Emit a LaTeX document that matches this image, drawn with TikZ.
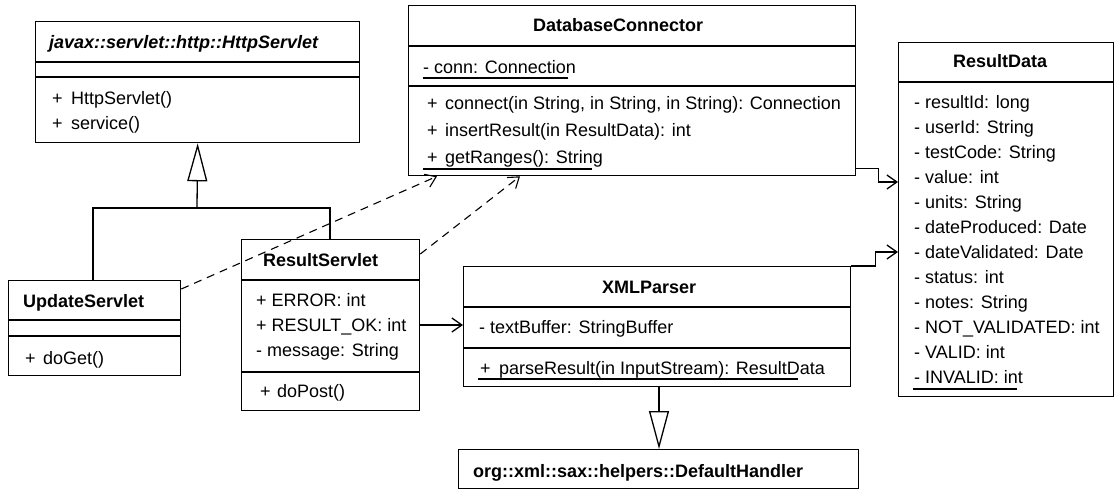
\documentclass[tikz,border=0pt]{standalone}
\usepackage{fontspec}
\setmainfont{Liberation Sans}
\usetikzlibrary{arrows.meta,calc}
\tikzset{
  cls/.style={draw, line width=1.3pt, rectangle, inner sep=0pt, anchor=north west},
  txt/.style={anchor=base west, inner sep=0pt, font=\fontsize{18}{20}\selectfont},
  ttl/.style={anchor=base west, inner sep=0pt, font=\fontsize{18}{20}\selectfont\bfseries},
  sep/.style={line width=1.3pt},
  ul/.style={line width=1.3pt},
  conn/.style={line width=1.3pt},
  dep/.style={line width=1.1pt, dash pattern=on 8pt off 6pt, -{Straight Barb[length=10pt,width=14pt]}},
  nav/.style={line width=1.3pt, -{Straight Barb[length=10pt,width=14pt]}},
  gen/.style={line width=1.3pt, -{Triangle[open,length=38pt,width=20pt]}}
}
\begin{document}
\begin{tikzpicture}[x=1pt,y=-1pt]
\useasboundingbox[fill=white] (0,0) rectangle (1117,490);

% HttpServlet
\node[cls, minimum width=324pt, minimum height=121pt] (http) at (35,21) {};
\draw[sep] (35,62) -- (359,62);
\draw[sep] (35,77) -- (359,77);
\node[ttl, font=\fontsize{18}{20}\selectfont\bfseries\itshape] (httpn) at (49,48.5) {javax::servlet::http::HttpServlet};
\node[txt] (httpm1a) at (52,104.5) {+};
\node[txt] (httpm1) at (71,104.5) {HttpServlet()};
\node[txt] (httpm2a) at (52,129.5) {+};
\node[txt] (httpm2) at (71,129.5) {service()};

% DatabaseConnector
\node[cls, minimum width=447pt, minimum height=170pt] (db) at (408,5) {};
\draw[sep] (408,46) -- (855,46);
\draw[sep] (408,86) -- (855,86);
\node[ttl] (dbn) at (533,31) {DatabaseConnector};
\node[txt] (dba1) at (423,73) {- conn: Connection};
\draw[ul] (423,78) -- (568,78);
\node[txt] (dbm1a) at (427,109) {+};
\node[txt] (dbm1) at (445,109) {connect(in String, in String, in String): Connection};
\node[txt] (dbm2a) at (427,136) {+};
\node[txt] (dbm2) at (445,136) {insertResult(in ResultData): int};
\node[txt] (dbm3a) at (427,163) {+};
\node[txt] (dbm3) at (445,163) {getRanges(): String};
\draw[ul] (423,169) -- (592,169);

% ResultData
\node[cls, minimum width=215pt, minimum height=354pt] (rd) at (898,42) {};
\draw[sep] (898,82) -- (1113,82);
\node[ttl] (rdn) at (953,67) {ResultData};
\node[txt] (rda1) at (914,108) {- resultId: long};
\node[txt] (rda2) at (914,133) {- userId: String};
\node[txt] (rda3) at (914,158) {- testCode: String};
\node[txt] (rda4) at (914,183) {- value: int};
\node[txt] (rda5) at (914,208) {- units: String};
\node[txt] (rda6) at (914,233) {- dateProduced: Date};
\node[txt] (rda7) at (914,258) {- dateValidated: Date};
\node[txt] (rda8) at (914,283) {- status: int};
\node[txt] (rda9) at (914,308) {- notes: String};
\node[txt] (rda10) at (914,333) {- NOT\_VALIDATED: int};
\node[txt] (rda11) at (914,358) {- VALID: int};
\node[txt] (rda12) at (914,383) {- INVALID: int};
\draw[ul] (913,389) -- (1017,389);

% UpdateServlet
\node[cls, minimum width=172pt, minimum height=95pt] (upd) at (8,280) {};
\draw[sep] (8,320) -- (180,320);
\draw[sep] (8,336) -- (180,336);
\node[ttl] (updn) at (23,307) {UpdateServlet};
\node[txt] (updm1a) at (25,364) {+};
\node[txt] (updm1) at (43,364) {doGet()};

% ResultServlet
\node[cls, minimum width=178pt, minimum height=171pt] (rs) at (241,239) {};
\draw[sep] (241,280) -- (419,280);
\draw[sep] (241,372) -- (419,372);
\node[ttl] (rsn) at (263,266) {ResultServlet};
\node[txt] (rsa1) at (256,306) {+ ERROR: int};
\node[txt] (rsa2) at (256,331) {+ RESULT\_OK: int};
\node[txt] (rsa3) at (256,356) {- message: String};
\node[txt] (rsm1a) at (260,397) {+};
\node[txt] (rsm1) at (277,397) {doPost()};

% XMLParser
\node[cls, minimum width=387pt, minimum height=120pt] (xml) at (463,266) {};
\draw[sep] (463,307) -- (850,307);
\draw[sep] (463,348) -- (850,348);
\node[ttl] (xmln) at (602,293) {XMLParser};
\node[txt] (xmla1) at (479,333) {- textBuffer: StringBuffer};
\node[txt] (xmlm1a) at (480,374) {+};
\node[txt] (xmlm1) at (499,374) {parseResult(in InputStream): ResultData};
\draw[ul] (478,379) -- (798,379);

% DefaultHandler
\node[cls, minimum width=400pt, minimum height=39pt] (dh) at (458,449) {};
\node[ttl] (dhn) at (473,477) {org::xml::sax::helpers::DefaultHandler};

% generalizations
\coordinate (j) at (197,208);
\draw[conn] ([xshift=85pt]upd.north west) |- (j);
\draw[conn] ([xshift=89pt]rs.north west) |- (j);
\draw[gen] (j) -- (http.south);
\draw[gen] ([xshift=196pt]xml.south west) -- ([xshift=201pt]dh.north west);

% dependencies
\draw[dep] ([yshift=-9pt]upd.north east) -- ([xshift=29pt]db.south west);
\draw[dep] ([yshift=-15pt]rs.north east) -- ([xshift=112pt]db.south west);

% associations
\draw[nav] ([yshift=-86pt]rs.north east) -- ([yshift=-59pt]xml.north west);
\draw[nav] ([yshift=8pt]db.south east) -- ++(22,0) |- ([yshift=-140pt]rd.north west);
\draw[nav] (xml.north east) -- ++(24,0) |- ([yshift=-210pt]rd.north west);
\end{tikzpicture}
\end{document}
